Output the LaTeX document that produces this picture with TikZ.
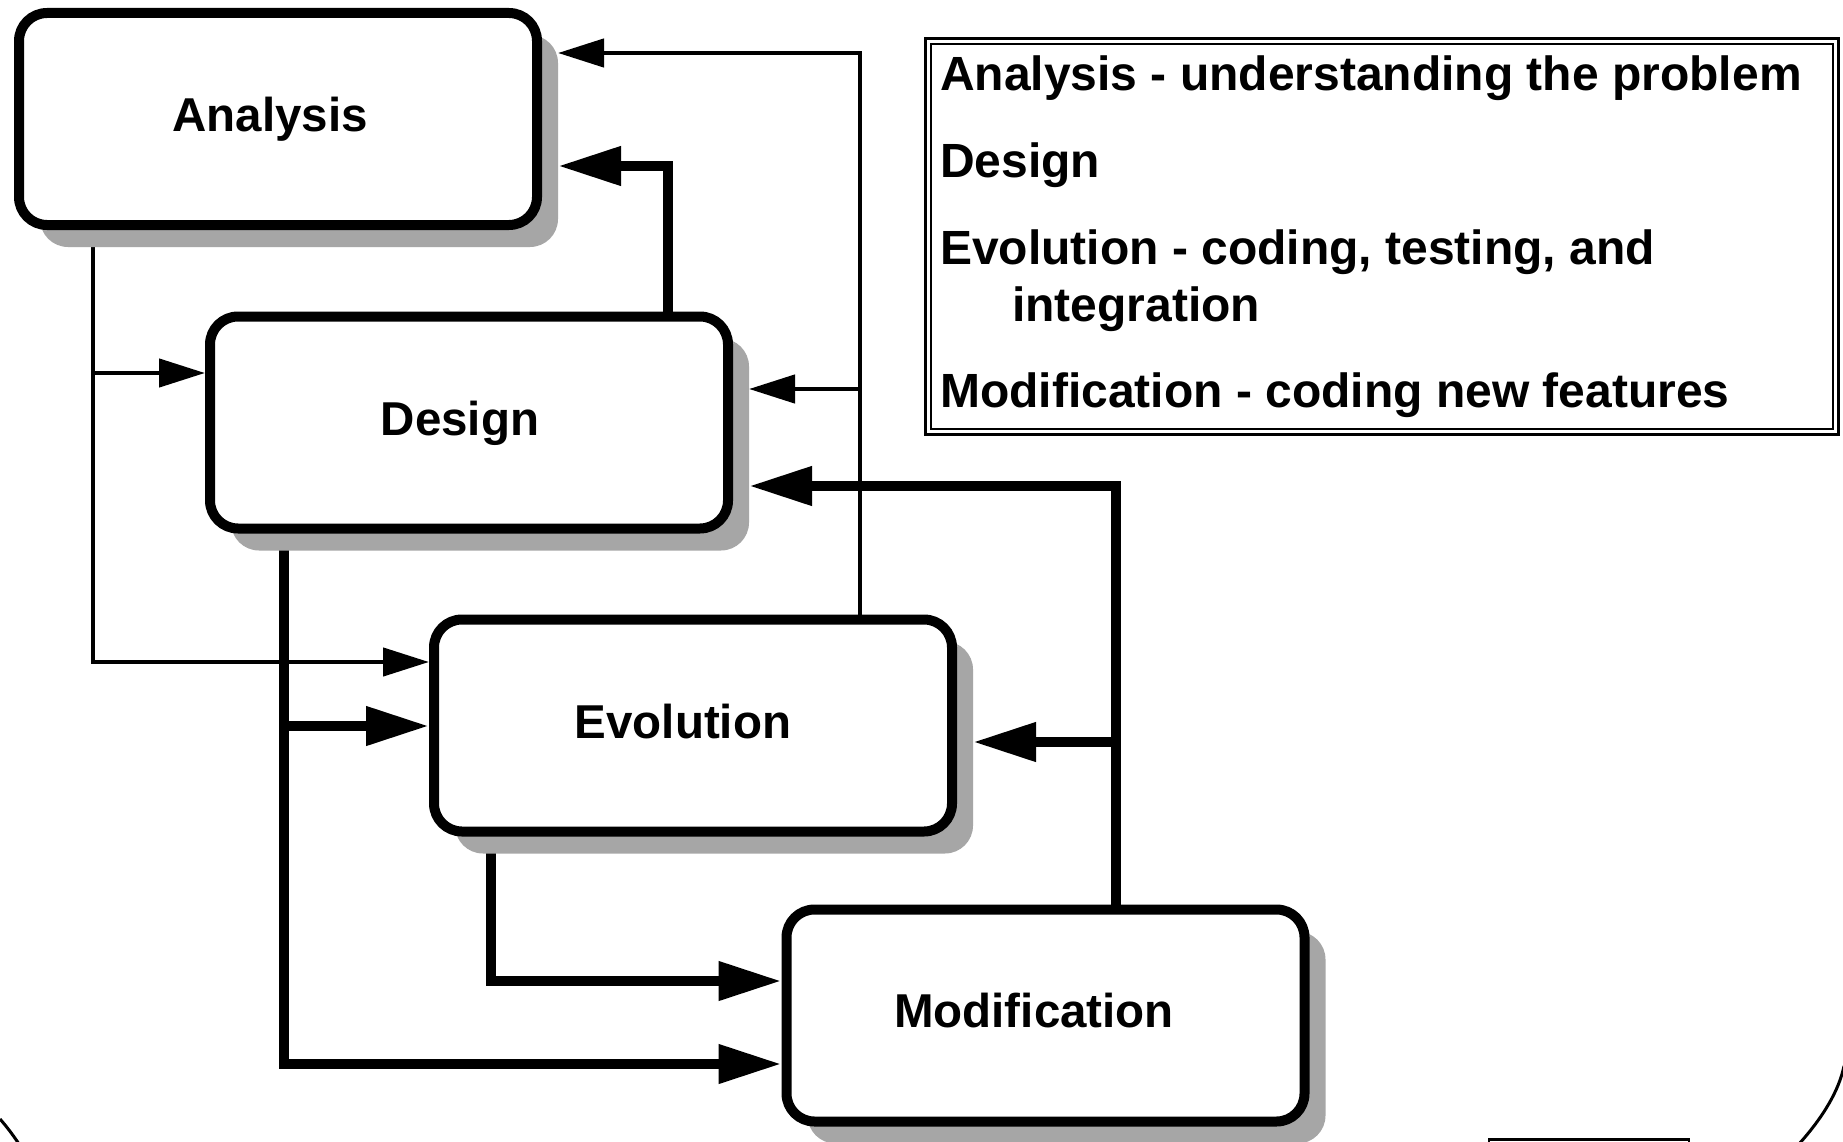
\documentclass[tikz,border=0pt]{standalone}
\usepackage{fontspec}
\setmainfont{Liberation Sans}
\usetikzlibrary{arrows.meta,shadows,backgrounds}
\definecolor{shadowgray}{HTML}{A6A6A6}
\begin{document}
\begin{tikzpicture}[x=1pt,y=-1pt,
  stagebox/.style={draw=black, line width=10pt, rounded corners=28pt, fill=white,
    minimum width=518pt, minimum height=212pt, inner sep=0pt,
    drop shadow={shadow xshift=21pt, shadow yshift=-22pt, opacity=1, fill=shadowgray}},
  lab/.style={font=\fontsize{47.5}{57}\selectfont\bfseries, inner sep=0pt, anchor=base},
  legtext/.style={font=\fontsize{48}{58}\selectfont\bfseries, inner sep=0pt, anchor=base west},
  legbox/.style={draw=black, double=white, line width=2.5pt, double distance=3pt, inner sep=0pt},
  thinarr/.style={line width=4.5pt, -{Triangle[length=46pt,width=28pt]}},
  thickarr/.style={line width=10.5pt, -{Triangle[length=63pt,width=37pt]}},
  framecurve/.style={line width=3pt}
]
\useasboundingbox (0,0) rectangle (1843,1142);
\clip (0,0) rectangle (1843,1142);

% stage boxes
\node[stagebox] (A) at (278,119) {};
\node[stagebox] (D) at (469,422.5) {};
\node[stagebox] (E) at (693,725.5) {};
\node[stagebox] (M) at (1045.5,1015.5) {};

% box labels
\node[lab] (At) at (270,132) {Analysis};
\node[lab] (Dt) at (460,435) {Design};
\node[lab] (Et) at (683,738) {Evolution};
\node[lab] (Mt) at (1034,1027) {Modification};

% legend
\node[legbox, minimum width=907.5pt, minimum height=390pt] (L) at (1381.75,236.5) {};
\node[legtext] (L1) at (940,91) {Analysis - understanding the problem};
\node[legtext] (L2) at (940,178) {Design};
\node[legtext] (L3) at (940,264) {Evolution - coding, testing, and};
\node[legtext] (L4) at (1012,321) {integration};
\node[legtext] (L5) at (940,407) {Modification - coding new features};

\begin{scope}[on background layer]
  \fill[white] (0,0) rectangle (1843,1142);
  % from Analysis
  \draw[thinarr] (A.south -| 93,0) |- (D.west |- 0,373);
  \draw[thinarr] (A.south -| 93,0) |- (E.west |- 0,662);
  % from Design
  \draw[thickarr] (D.south -| 284,0) |- (E.west |- 0,726);
  \draw[thickarr] (D.south -| 284,0) |- (M.west |- 0,1064);
  \draw[thickarr] (D.north -| 668,0) |- ([xshift=16pt]A.east |- 0,166);
  % from Evolution
  \draw[thickarr] (E.south -| 491,0) |- (M.west |- 0,981);
  \draw[thinarr] (E.north -| 860,0) |- ([xshift=16pt]A.east |- 0,53);
  \draw[thinarr] (E.north -| 860,0) |- ([xshift=16pt]D.east |- 0,389);
  % from Modification
  \draw[thickarr] (M.north -| 1116,0) |- ([xshift=16pt]D.east |- 0,486);
  \draw[thickarr] (M.north -| 1116,0) |- ([xshift=16pt]E.east |- 0,742);
\end{scope}

% slide frame remnants
\draw[framecurve] (0,1119) .. controls (7,1127) and (13,1135) .. (19,1144);
\draw[framecurve] (1844,1066) .. controls (1839,1090) and (1824,1116) .. (1799,1144);
\draw[line width=2.5pt] (1489,1150) |- (1689,1139.5) -- (1689,1150);
\end{tikzpicture}
\end{document}
